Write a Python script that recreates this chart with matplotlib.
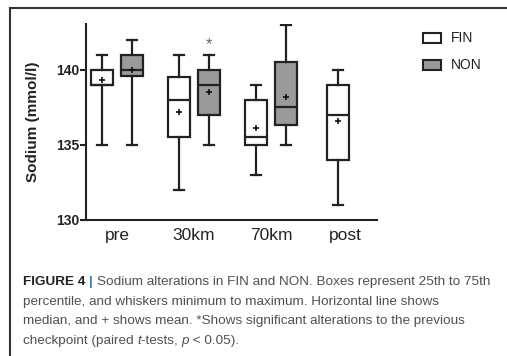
import numpy as np
import matplotlib.pyplot as plt
from matplotlib.patches import Rectangle
from matplotlib.lines import Line2D

plt.rcParams['font.family'] = ['Liberation Sans', 'DejaVu Sans']

# checkpoints and box statistics (mmol/l)
checkpoints = ['pre', '30km', '70km', 'post']

fin_min = [135, 132, 133, 131]
fin_q1 = [139, 135.5, 135, 134]
fin_med = [139, 138, 135.5, 137]
fin_q3 = [140, 139.5, 138, 139]
fin_max = [141, 141, 139, 140]
fin_mean = [139.3, 137.2, 136.1, 136.6]

non_min = [135, 135, 135]
non_q1 = [139.6, 137, 136.3]
non_med = [140, 139, 137.5]
non_q3 = [141, 140, 140.5]
non_max = [142, 141, 143]
non_mean = [140, 138.5, 138.2]

signif_non = [False, True, False]   # * vs previous checkpoint

W, H = 507, 356
fig = plt.figure(figsize=(W / 100, H / 100), dpi=100)
ax = fig.add_axes([86 / W, 1 - 220 / H, 291 / W, 196 / H])

centers = np.arange(len(checkpoints), dtype=float)
centers[3] = 2.97
off = 0.195
fin_pos = centers - off
fin_pos[3] = 2.87
non_pos = centers[:3] + off


def stats(mn, q1, med, q3, mx, mean):
    return [dict(whislo=a, q1=b, med=c, q3=d, whishi=e, mean=f, fliers=[])
            for a, b, c, d, e, f in zip(mn, q1, med, q3, mx, mean)]


common = dict(widths=0.28, patch_artist=True, showmeans=True, showfliers=False,
              whiskerprops=dict(color='#222222', lw=1.6),
              capprops=dict(color='#222222', lw=1.6),
              medianprops=dict(color='#222222', lw=1.6),
              meanprops=dict(marker='+', markeredgecolor='#111111', markersize=4.5, mew=1.2))

ax.bxp(stats(fin_min, fin_q1, fin_med, fin_q3, fin_max, fin_mean), positions=fin_pos,
       boxprops=dict(facecolor='white', edgecolor='#222222', lw=1.6), **common)
ax.bxp(stats(non_min, non_q1, non_med, non_q3, non_max, non_mean), positions=non_pos,
       boxprops=dict(facecolor='#9a9a9a', edgecolor='#222222', lw=1.6), **common)

for p, top, s in zip(non_pos, non_max, signif_non):
    if s:
        ax.text(p, top + 0.2, '*', ha='center', va='bottom', fontsize=12, color='#666666')

ax.set_xlim(-0.403, 3.377)
ax.set_ylim(130, 143.05)
ax.set_yticks([130, 135, 140])
ax.set_xticks(centers)
ax.set_xticklabels(checkpoints, fontsize=12.5, color='#222222')
ax.tick_params(axis='x', length=0, pad=6)
ax.tick_params(axis='y', length=4, width=1.5, labelsize=10, colors='#222222', pad=1)
for lab in ax.get_yticklabels():
    lab.set_fontweight('bold')
for s in ['top', 'right']:
    ax.spines[s].set_visible(False)
for s in ['left', 'bottom']:
    ax.spines[s].set_linewidth(1.5)
    ax.spines[s].set_color('#222222')
ax.set_ylabel('Sodium (mmol/l)', fontsize=11, fontweight='bold', color='#222222')
ax.yaxis.set_label_coords(-46 / 291, 0.5)

# legend
for name, fc, yc in [('FIN', 'white', 38), ('NON', '#9a9a9a', 65)]:
    fig.add_artist(Rectangle((423 / W, 1 - (yc + 5) / H), 18 / W, 10 / H,
                             transform=fig.transFigure, facecolor=fc,
                             edgecolor='#222222', lw=1.5))
    fig.text(451 / W, 1 - yc / H, name, fontsize=10, color='#222222', va='center')

# frame lines
fig.add_artist(Line2D([10 / W, 10 / W], [0, 1 - 8 / H], transform=fig.transFigure,
                      color='#333333', lw=1.5))
fig.add_artist(Line2D([10 / W, 1], [1 - 8 / H, 1 - 8 / H], transform=fig.transFigure,
                      color='#333333', lw=1.5))

# caption, drawn piece by piece
caption = [
    [('FIGURE 4 ', dict(weight='bold', color='#222222')),
     ('| ', dict(weight='bold', color='#3b78b5')),
     ('Sodium alterations in FIN and NON. Boxes represent 25th to 75th', {})],
    [('percentile, and whiskers minimum to maximum. Horizontal line shows', {})],
    [('median, and + shows mean. *Shows significant alterations to the previous', {})],
    [('checkpoint (paired ', {}), ('t', dict(style='italic')), ('-tests, ', {}),
     ('p', dict(style='italic')), (' < 0.05).', {})],
]
fig.canvas.draw()
r = fig.canvas.get_renderer()
for i, line in enumerate(caption):
    x = 23
    y = 282 + i * 19.7
    for txt, kw in line:
        style = dict(fontsize=9.7, color='#505050', va='center')
        style.update(kw)
        t = fig.text(x / W, 1 - y / H, txt, **style)
        bb = t.get_window_extent(renderer=r)
        x += bb.width

fig.savefig('out.png', dpi=100)
